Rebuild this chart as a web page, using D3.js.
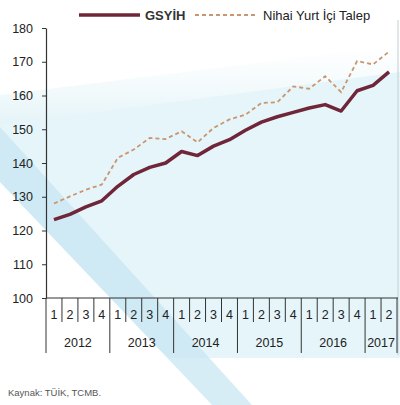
<!DOCTYPE html>
<html><head><meta charset="utf-8">
<script src="https://cdn.jsdelivr.net/npm/d3@7/dist/d3.min.js"></script>
<style>body{margin:0;background:#fff}svg{display:block}text{font-family:"Liberation Sans",Arial,sans-serif}</style>
</head><body><svg id="c" width="400" height="405"></svg>
<script>
const years = ["2012","2013","2014","2015","2016","2017"];
const quartersPerYear = [4,4,4,4,4,2];
const quarterLabels = ["1","2","3","4","1","2","3","4","1","2","3","4","1","2","3","4","1","2","3","4","1","2"];
const gsyih = [123.2,124.8,127.0,128.8,133.1,136.6,138.7,140.0,143.4,142.2,145.0,146.9,149.7,152.1,153.7,155.0,156.3,157.3,155.4,161.4,163.0,167.0];
const talep = [128.0,130.1,132.1,133.6,141.5,144.0,147.4,147.1,149.4,146.1,150.4,152.9,154.3,157.8,158.0,162.7,162.0,165.7,161.0,170.2,169.2,173.0];
const yTicks = [100,110,120,130,140,150,160,170,180];
const seriesNames = ["GSYİH","Nihai Yurt İçi Talep"];
const sourceText = "Kaynak: TÜİK, TCMB.";

const svg = d3.select("#c");
const mLeft = 46, mRight = 397, mTop = 28, mBottom = 298;
const n = quarterLabels.length;
const x = d3.scaleBand().domain(d3.range(n)).range([mLeft, mRight]).paddingInner(0).paddingOuter(0);
const y = d3.scaleLinear().domain([100,180]).range([mBottom, mTop]);

// decorative background
const defs = svg.append("defs");
const g1 = defs.append("linearGradient").attr("id","fade").attr("x1",0).attr("y1",0).attr("x2",0).attr("y2",1);
g1.append("stop").attr("offset","0").attr("stop-color","#e9f6fa").attr("stop-opacity",0);
g1.append("stop").attr("offset","1").attr("stop-color","#dcf0f6").attr("stop-opacity",0.8);
svg.append("path").attr("d","M0,95 L400,45 L400,74 L0,127 Z").attr("fill","url(#fade)");
svg.append("path").attr("d","M0,125 L400,72 L400,358 L168,358 L0,182 Z").attr("fill","#e5f5f9");
svg.append("path").attr("d","M0,127 L0,182 L212,405 L252,405 Z").attr("fill","#c6e5f2").attr("opacity",0.7);
svg.append("line").attr("x1",398).attr("x2",398).attr("y1",20).attr("y2",355).attr("stroke","#c4ced2").attr("stroke-width",1);

// y axis
const ya = svg.append("g").attr("transform",`translate(${mLeft},0)`)
  .call(d3.axisLeft(y).tickValues(yTicks).tickSize(4).tickPadding(9).tickSizeOuter(0));
ya.select(".domain").attr("stroke","#333").attr("stroke-width",1.2);
ya.selectAll(".tick line").attr("stroke","#333");
ya.selectAll("text").attr("font-size",12.5).attr("fill","#222").attr("font-family","Liberation Sans, Arial, sans-serif");

// x axis
svg.append("line").attr("x1",mLeft).attr("x2",mRight+1).attr("y1",mBottom).attr("y2",mBottom).attr("stroke","#333").attr("stroke-width",1.2);
const bw = x.bandwidth();
let idx = 0;
const yearStarts = [];
quartersPerYear.forEach((q)=>{ yearStarts.push(idx); idx += q; });
d3.range(n+1).forEach(i=>{
  const xx = i < n ? x(i) : x(n-1)+bw;
  const isYear = yearStarts.includes(i) || i===n;
  svg.append("line").attr("x1",xx).attr("x2",xx).attr("y1",mBottom).attr("y2",isYear?353:322)
    .attr("stroke","#333").attr("stroke-width",1);
});
svg.append("g").selectAll("text").data(quarterLabels).join("text")
  .attr("x",(d,i)=>x(i)+bw/2).attr("y",319).attr("text-anchor","middle")
  .attr("font-size",12.5).attr("fill","#222").text(d=>d);
svg.append("g").selectAll("text").data(years).join("text")
  .attr("x",(d,i)=>{const s=yearStarts[i]; return x(s)+quartersPerYear[i]*bw/2;})
  .attr("y",347).attr("text-anchor","middle").attr("font-size",12.5).attr("fill","#222").text(d=>d);

// lines
const line = d3.line().x((d,i)=>x(i)+bw/2).y(d=>y(d));
svg.append("path").datum(talep).attr("d",line).attr("fill","none")
  .attr("stroke","#c99670").attr("stroke-width",1.8).attr("stroke-dasharray","4,3");
svg.append("path").datum(gsyih).attr("d",line).attr("fill","none")
  .attr("stroke","#6e2638").attr("stroke-width",3.5).attr("stroke-linejoin","round");

// legend
const lg = svg.append("g");
lg.append("line").attr("x1",79).attr("x2",140).attr("y1",15).attr("y2",15).attr("stroke","#6e2638").attr("stroke-width",3.5);
lg.append("text").attr("x",145).attr("y",19.5).attr("font-size",13).attr("font-weight","bold").attr("fill","#333").text(seriesNames[0]);
lg.append("line").attr("x1",195).attr("x2",256).attr("y1",15).attr("y2",15).attr("stroke","#c99670").attr("stroke-width",1.8).attr("stroke-dasharray","4,3");
lg.append("text").attr("x",263).attr("y",19.5).attr("font-size",13).attr("fill","#222").text(seriesNames[1]);

svg.append("text").attr("x",8).attr("y",396).attr("font-size",9.5).attr("fill","#555").text(sourceText);
</script></body></html>
